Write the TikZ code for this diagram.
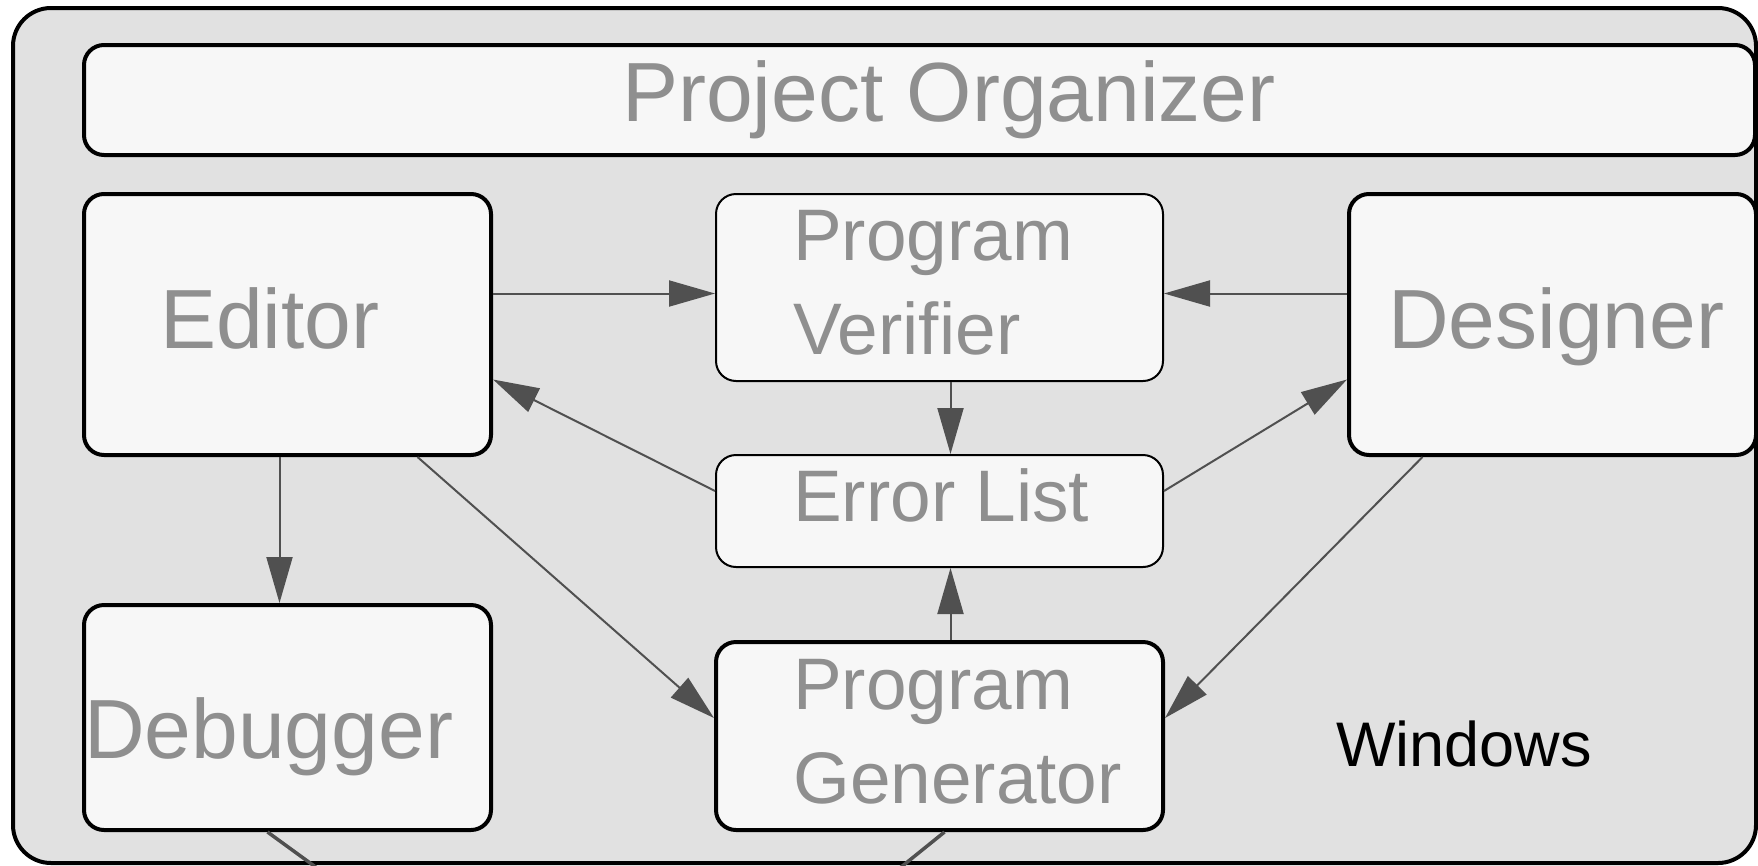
\documentclass[tikz,border=0pt]{standalone}
\usepackage{fontspec}
\setmainfont{Liberation Sans}
\usetikzlibrary{arrows.meta}
\definecolor{paneback}{HTML}{E1E1E1}
\definecolor{boxfill}{HTML}{F7F7F7}
\definecolor{labelgray}{HTML}{8F8F8F}
\definecolor{linkgray}{HTML}{505050}

\begin{document}
\begin{tikzpicture}[x=1pt, y=-1pt,
    pane/.style={rectangle, draw=black, line width=4pt,
        rounded corners=38pt, fill=paneback},
    module/.style={rectangle, draw=black, line width=4pt,
        rounded corners=20pt, fill=boxfill, inner sep=0pt},
    thinmodule/.style={module, line width=2pt},
    modtitle/.style={anchor=base west, inner sep=0pt, text=labelgray,
        align=left, font=\fontsize{84}{94}\selectfont},
    smalltitle/.style={modtitle, font=\fontsize{73}{94}\selectfont},
    link/.style={draw=linkgray, line width=2pt,
        -{Triangle[length=46pt,width=26pt]}},
    exit/.style={draw=linkgray, line width=3.5pt}]

\useasboundingbox (0,0) rectangle (1758,865);

\node (Windows) [pane, minimum width=1743pt, minimum height=855pt] at (884.5,435.5) {};

\node (PrjOrg) [module, minimum width=1671pt, minimum height=110pt] at (919.5,100) {};
\node (Editor) [module, minimum width=407pt, minimum height=261pt] at (287.5,324.5) {};
\node (Verifier) [thinmodule, minimum width=447pt, minimum height=187pt] at (939.5,287.5) {};
\node (Designer) [module, minimum width=407pt, minimum height=261pt] at (1552.5,324.5) {};
\node (ErrList) [thinmodule, minimum width=447pt, minimum height=112pt] at (939.5,511) {};
\node (Debugger) [module, minimum width=407pt, minimum height=225pt] at (287.5,717.5) {};
\node (Generator) [module, minimum width=447pt, minimum height=188pt] at (939.5,736) {};

\node (PrjOrgText) [modtitle] at (622,121) {Project Organizer};
\node (EditorText) [modtitle] at (160,348) {Editor};
\node (DesignerText) [modtitle] at (1388,348) {Designer};
\node (DebuggerText) [modtitle] at (84,758) {Debugger};
\node (VerifierText) [smalltitle] at (793,354) {Program\\Verifier};
\node (ErrListText) [smalltitle] at (793,521) {Error List};
\node (GeneratorText) [smalltitle] at (793,803) {Program\\Generator};
\node (WindowsText) [anchor=base west, inner sep=0pt,
    font=\fontsize{63}{70}\selectfont] at (1336,766) {Windows};

\draw [link] ([yshift=-6pt]Verifier.west -| Editor.east) -- ([yshift=-6pt]Verifier.west);
\draw [link] ([yshift=-6pt]Verifier.east -| Designer.west) -- ([yshift=-6pt]Verifier.east);
\draw [link] ([xshift=11pt]Verifier.south) -- ([xshift=11pt]ErrList.north);
\draw [link] ([yshift=20pt]ErrList.west) -- ([yshift=-55pt]Editor.east);
\draw [link] ([yshift=20pt]ErrList.east) -- ([yshift=-55pt]Designer.west);
\draw [link] ([xshift=-8pt]Editor.south) -- ([xshift=-8pt]Debugger.north);
\draw [link] ([xshift=130pt]Editor.south) -- ([yshift=18pt]Generator.west);
\draw [link] ([xshift=-130pt]Designer.south) -- ([yshift=18pt]Generator.east);
\draw [link] ([xshift=11pt]Generator.north) -- ([xshift=11pt]ErrList.south);

\coordinate (DebugOut) at (328,876);
\coordinate (GenOut) at (890,876);
\draw [exit] ([xshift=-20pt]Debugger.south) -- (DebugOut);
\draw [exit] ([xshift=5pt]Generator.south) -- (GenOut);

\end{tikzpicture}
\end{document}
